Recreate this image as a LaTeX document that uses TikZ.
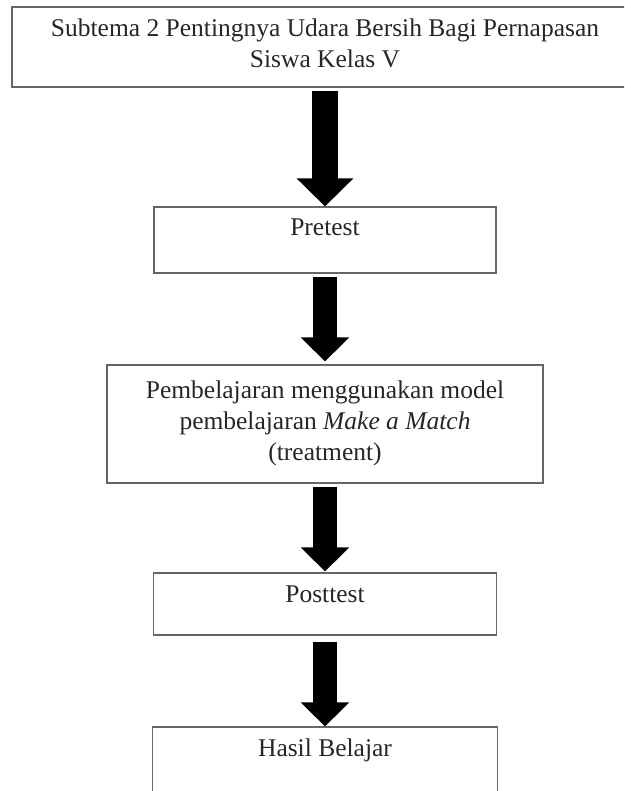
\documentclass[tikz,border=0pt]{standalone}
\usepackage{fontspec}
\setmainfont{Liberation Serif}
\usetikzlibrary{arrows.meta,calc}
\begin{document}
\begin{tikzpicture}[x=1pt,y=-1pt,
  box/.style={draw=black!60, line width=1.1pt, rectangle, inner sep=0pt},
  txt/.style={anchor=base, align=center, text=black!85, inner sep=0pt,
    font=\fontsize{25.5}{31}\selectfont},
  bigarrow/.style={line width=24pt, -{Triangle[width=47pt,length=24pt]}, shorten <=3pt},
  firstarrow/.style={line width=26pt, -{Triangle[width=55pt,length=28pt]}, shorten <=3pt}]
\useasboundingbox (0,0) rectangle (624,791);
\clip (0,0) rectangle (624,791);
% boxes
\node[box, minimum width=628pt, minimum height=80pt] (b1) at (326,47) {};
\node[box, minimum width=342pt, minimum height=66pt] (b2) at (325,240) {};
\node[box, minimum width=436pt, minimum height=118pt] (b3) at (325,424) {};
\node[box, minimum width=343pt, minimum height=62pt] (b4) at (325,604) {};
\node[box, minimum width=345pt, minimum height=93pt] (b5) at (325,773.5) {};
% texts (base = baseline of the last line)
\node[txt] (t1) at ($(b2.north |- b1.north)+(0,61)$) {Subtema 2 Pentingnya Udara Bersih Bagi Pernapasan\\Siswa Kelas V};
\node[txt] (t2) at ($(b2.north)+(0,29)$) {Pretest};
\node[txt] (t3) at ($(b3.north)+(0,96)$) {Pembelajaran menggunakan model\\pembelajaran \textit{Make a Match}\\(treatment)};
\node[txt] (t4) at ($(b4.north)+(0,30)$) {Posttest};
\node[txt] (t5) at ($(b5.north)+(0,30)$) {Hasil Belajar};
% arrows
\draw[firstarrow] (b2.north |- b1.south) -- (b2.north);
\draw[bigarrow] (b2.south) -- ($(b3.north)+(0,-3)$);
\draw[bigarrow] (b3.south) -- ($(b4.north)+(0,-1)$);
\draw[bigarrow] ($(b4.south)+(0,3)$) -- (b5.north);
\end{tikzpicture}
\end{document}
